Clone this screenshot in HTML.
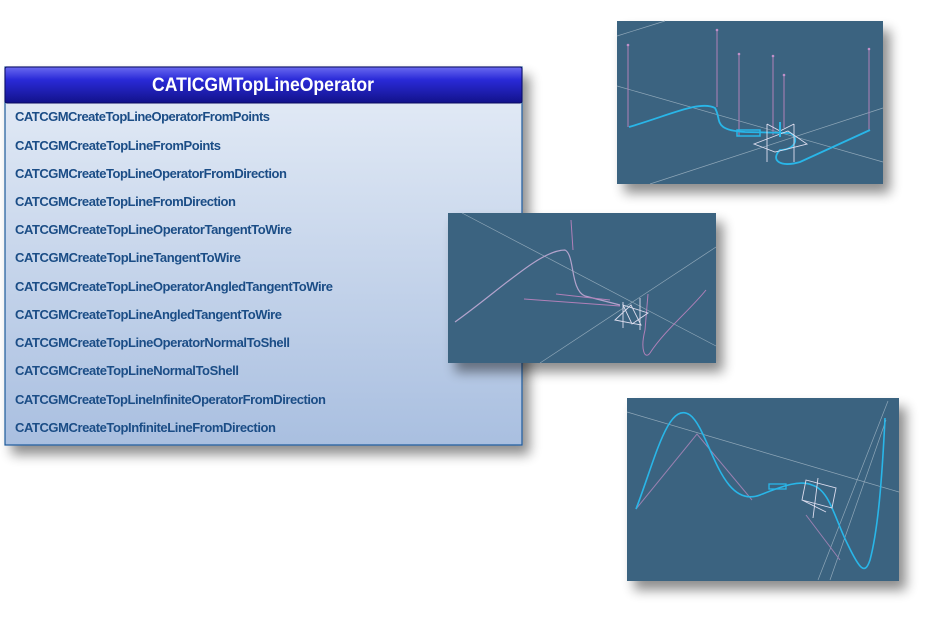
<!DOCTYPE html>
<html><head><meta charset="utf-8"><style>
html,body{margin:0;padding:0;background:#fff;width:941px;height:623px;overflow:hidden}
</style></head><body>
<svg width="941" height="623" viewBox="0 0 941 623" xmlns="http://www.w3.org/2000/svg">
<defs>
<linearGradient id="hd" x1="0" y1="0" x2="0" y2="1">
<stop offset="0" stop-color="#6a6af0"/><stop offset="0.35" stop-color="#2a2ad8"/><stop offset="1" stop-color="#12128a"/>
</linearGradient>
<linearGradient id="bd" x1="0" y1="0" x2="0" y2="1">
<stop offset="0" stop-color="#e6edf7"/><stop offset="1" stop-color="#a9bfe0"/>
</linearGradient>
<filter id="sh" x="-20%" y="-20%" width="150%" height="160%">
<feGaussianBlur in="SourceAlpha" stdDeviation="6"/><feOffset dx="7" dy="9"/>
<feComponentTransfer><feFuncA type="linear" slope="0.45"/></feComponentTransfer>
<feMerge><feMergeNode/><feMergeNode in="SourceGraphic"/></feMerge>
</filter>
</defs>
<!-- list box -->
<rect x="5" y="67" width="517" height="378" fill="url(#bd)" stroke="#1e5a9a" stroke-width="1.2" filter="url(#sh)"/>
<rect x="5" y="67" width="517" height="36" rx="2" fill="url(#hd)" stroke="#0a0a60" stroke-width="1"/>
<text x="263" y="91" text-anchor="middle" font-family="Liberation Sans, sans-serif" font-weight="bold" font-size="19" fill="#fff" textLength="222" lengthAdjust="spacingAndGlyphs">CATICGMTopLineOperator</text>
<g font-family="Liberation Sans, sans-serif" font-weight="bold" font-size="13" fill="#1b4d86" lengthAdjust="spacingAndGlyphs">
<text x="15" y="121" textLength="255">CATCGMCreateTopLineOperatorFromPoints</text>
<text x="15" y="150" textLength="206">CATCGMCreateTopLineFromPoints</text>
<text x="15" y="178" textLength="272">CATCGMCreateTopLineOperatorFromDirection</text>
<text x="15" y="206" textLength="221">CATCGMCreateTopLineFromDirection</text>
<text x="15" y="234" textLength="277">CATCGMCreateTopLineOperatorTangentToWire</text>
<text x="15" y="262" textLength="226">CATCGMCreateTopLineTangentToWire</text>
<text x="15" y="291" textLength="318">CATCGMCreateTopLineOperatorAngledTangentToWire</text>
<text x="15" y="319" textLength="267">CATCGMCreateTopLineAngledTangentToWire</text>
<text x="15" y="347" textLength="275">CATCGMCreateTopLineOperatorNormalToShell</text>
<text x="15" y="375" textLength="224">CATCGMCreateTopLineNormalToShell</text>
<text x="15" y="404" textLength="311">CATCGMCreateTopLineInfiniteOperatorFromDirection</text>
<text x="15" y="432" textLength="261">CATCGMCreateTopInfiniteLineFromDirection</text>
</g>
<!-- panel 1 -->
<g filter="url(#sh)"><rect x="617" y="21" width="266" height="163" fill="#3b6480"/></g>
<g fill="none" stroke-width="1">
<path d="M617 86 L883 162 M650 184 L883 108 M617 36 L665 21" stroke="#8fa7b8" stroke-width="0.7"/>
<g stroke="#b080b8">
<path d="M628 45 V127 M717 30 V107 M739 54 V136 M773 56 V135 M784 75 V128 M869 49 V130"/>
</g>
<g fill="#c090c8"><circle cx="628" cy="45" r="1.3"/><circle cx="717" cy="30" r="1.3"/><circle cx="739" cy="54" r="1.3"/><circle cx="773" cy="56" r="1.3"/><circle cx="784" cy="75" r="1.3"/><circle cx="869" cy="49" r="1.3"/></g>
<path d="M629 127 C670 115 700 100 715 108 C722 120 712 130 745 132 L790 133 C800 138 795 150 780 150 C770 160 780 168 800 162 L870 130" stroke="#29b6e8" stroke-width="1.8"/>
<rect x="737" y="130" width="23" height="6" stroke="#29b6e8" stroke-width="1.5"/>
<path d="M754 144 L788 131 L807 144 L775 152 Z M767 124 V162 M794 124 V162 M767 124 L780 131 L794 124" stroke="#dde" stroke-width="0.9"/>
<path d="M780 137 V122" stroke="#29b6e8" stroke-width="2"/>
</g>
<!-- panel 2 -->
<g filter="url(#sh)"><rect x="448" y="213" width="268" height="150" fill="#3b6480"/></g>
<g fill="none">
<path d="M462 213 L716 346 M540 363 L716 247" stroke="#8fa7b8" stroke-width="0.7"/>
<path d="M455 322 C500 290 540 250 565 250 C575 255 570 290 585 296 L620 305" stroke="#b3a3cc" stroke-width="1.2"/>
<path d="M571 220 L573 250 M524 299 L620 306 M556 294 L610 300 M648 294 L645 330 C640 350 645 360 650 353 C665 330 690 310 706 290" stroke="#b080b8" stroke-width="1"/>
<path d="M623 305 L648 313 L632 324 Z M615 320 L641 325 L631 305 Z M623 302 V328 M640 298 V330" stroke="#dde" stroke-width="0.9"/>
</g>
<!-- panel 3 -->
<g filter="url(#sh)"><rect x="627" y="398" width="272" height="183" fill="#3b6480"/></g>
<g fill="none">
<path d="M627 412 L899 492 M818 580 L888 401 M830 580 L886 420" stroke="#8fa7b8" stroke-width="0.7"/>
<path d="M636 509 L697 434 L752 500 M806 515 L840 560" stroke="#9a80b0" stroke-width="1"/>
<path d="M636 509 C655 460 668 400 690 415 C710 430 720 510 760 495 C785 485 800 480 812 485 C830 490 835 520 848 545 C860 570 865 575 870 560 C878 530 882 480 885 418" stroke="#29b6e8" stroke-width="1.6"/>
<rect x="769" y="484" width="17" height="5" stroke="#29b6e8" stroke-width="1.3"/>
<path d="M806 480 L836 488 L832 508 L802 500 Z M802 500 L826 512 M818 478 L813 518" stroke="#dde" stroke-width="0.9"/>
</g>
</svg>
</body></html>
